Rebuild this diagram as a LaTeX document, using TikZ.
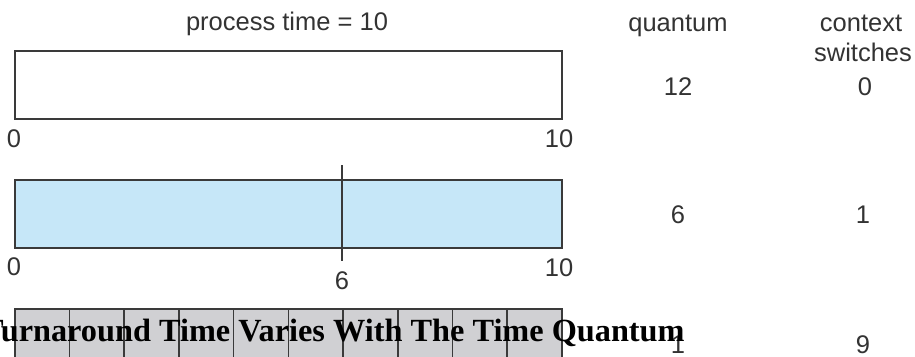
\documentclass[tikz,border=0pt]{standalone}
\usepackage{fontspec}
\setmainfont{Liberation Sans}
\newfontfamily\titlefont{Liberation Serif}
\definecolor{edge}{HTML}{3A3A3A}
\definecolor{lbl}{HTML}{333333}
\definecolor{lightblue}{HTML}{C6E7F8}
\definecolor{cellgray}{HTML}{D0D0D3}
\begin{document}
\begin{tikzpicture}[x=1pt,y=-1pt,
  bar/.style={draw=edge,line width=1.6pt},
  lab/.style={font=\fontsize{25.5}{28}\selectfont,text=lbl,inner sep=0pt,anchor=base},
  divider/.style={draw=edge,line width=1.4pt}]
\useasboundingbox (0,0) rectangle (915,356);
\clip (0,0) rectangle (915,356);
\fill[white] (0,0) rectangle (915,356);
% header
\node[lab] (ptime) at (287,30) {process time = 10};
\node[lab] (quant) at (678,31) {quantum};
\node[lab] (ctx) at (861,31) {context};
\node[lab] (sw) at (863,61) {switches};
% row 1
\node[bar,fill=white,minimum width=547pt,minimum height=68pt,inner sep=0pt,anchor=north west] (box1) at (14,50) {};
\node[lab] (r1a) at (14,147) {0};
\node[lab] (r1b) at (559,147) {10};
\node[lab] (q1) at (678,95) {12};
\node[lab] (c1) at (865,95) {0};
% row 2
\node[bar,fill=lightblue,minimum width=547pt,minimum height=68pt,inner sep=0pt,anchor=north west] (box2) at (14,179) {};
\coordinate (s6top) at (342,165);
\coordinate (s6bot) at (342,261);
\draw[divider] (s6top) -- (s6bot);
\node[lab] (r2a) at (14,275) {0};
\node[lab] (r2b) at (342,289) {6};
\node[lab] (r2c) at (559,276) {10};
\node[lab] (q2) at (678,223) {6};
\node[lab] (c2) at (863,223) {1};
% row 3
\foreach \i in {0,...,9} {
  \node[bar,fill=cellgray,minimum width=54.7pt,minimum height=80pt,inner sep=0pt,anchor=north west] (cell\i) at ({14+54.7*\i},308) {};
}
\node[lab] (q3) at (678,353) {1};
\node[lab] (c3) at (863,353) {9};
% title overlay
\node[font=\titlefont\bfseries\fontsize{32.3}{36}\selectfont,inner sep=0pt,anchor=base west,text=black] (title) at (-18,341) {Turnaround Time Varies With The Time Quantum};
\end{tikzpicture}
\end{document}
